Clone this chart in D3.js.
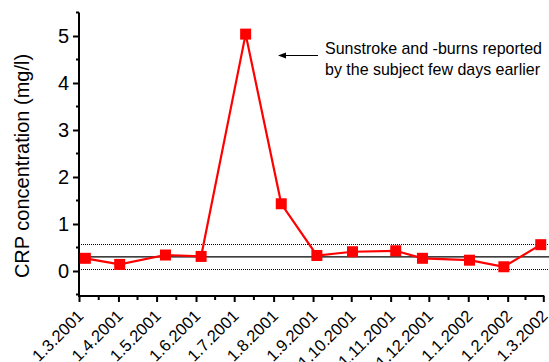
<!DOCTYPE html>
<html lang="en">
<head>
<meta charset="UTF-8"/>
<title>CRP</title>
<script src="https://d3js.org/d3.v7.min.js"></script>
<style>
  body { margin: 0; background: #fff; }
  text { font-family: "Liberation Sans", Arial, sans-serif; fill: #000; }
</style>
</head>
<body>
<svg id="chart" width="549" height="362"></svg>
<script>
// sample dates and CRP values (mg/l)
var dates = ["2001-03-06", "2001-04-02", "2001-05-08", "2001-06-05", "2001-07-10", "2001-08-07",
             "2001-09-04", "2001-10-02", "2001-11-05", "2001-11-26", "2002-01-02", "2002-01-29", "2002-02-27"];
var crp = [0.27, 0.14, 0.34, 0.31, 5.04, 1.43, 0.33, 0.41, 0.43, 0.27, 0.23, 0.09, 0.56];

// reference lines: centre (solid) and band (dotted)
var refCentre = [0.31];
var refBand = [0.05, 0.58];

// month ticks on the x axis
var monthTicks = ["2001-03-01", "2001-04-01", "2001-05-01", "2001-06-01", "2001-07-01", "2001-08-01",
                  "2001-09-01", "2001-10-01", "2001-11-01", "2001-12-01", "2002-01-01", "2002-02-01", "2002-03-01"];
var yTicks = [0, 1, 2, 3, 4, 5];
var yMinor = [-0.5, 0.5, 1.5, 2.5, 3.5, 4.5, 5.5];

var noteLines = ["Sunstroke and -burns reported", "by the subject few days earlier"];
var noteWidths = [217, 215];

var parse = d3.utcParse("%Y-%m-%d");
var fmt = function(d) { return d.getUTCDate() + "." + (d.getUTCMonth() + 1) + "." + d.getUTCFullYear(); };

var plotLeft = 79, plotRight = 543.3, plotTop = 12.5, plotBottom = 294.5, axisY = 296;

var svg = d3.select("#chart");

var x = d3.scaleUtc()
    .domain([parse("2001-03-01"), parse("2002-03-01")])
    .range([plotLeft, plotRight]);

var y = d3.scaleLinear()
    .domain([-0.5, 5.5])
    .range([plotBottom, plotTop]);

// reference lines
svg.selectAll(".ref")
  .data(refCentre)
  .enter().append("line")
    .attr("x1", plotLeft).attr("x2", 549)
    .attr("y1", function(d) { return y(d) + 0.5; })
    .attr("y2", function(d) { return y(d) + 0.5; })
    .attr("stroke", "#000").attr("stroke-width", 1.2);

svg.selectAll(".band")
  .data(refBand)
  .enter().append("line")
    .attr("x1", plotLeft).attr("x2", 549)
    .attr("y1", function(d) { return Math.round(y(d)) + 0.5; })
    .attr("y2", function(d) { return Math.round(y(d)) + 0.5; })
    .attr("stroke", "#000").attr("stroke-width", 1)
    .attr("stroke-dasharray", "1,1");

// y axis
var yAxis = d3.axisLeft(y).tickValues(yTicks).tickSize(6).tickPadding(4).tickFormat(d3.format("d"));
var gy = svg.append("g").attr("transform", "translate(" + plotLeft + ",0)").call(yAxis);
gy.select(".domain").remove();
gy.append("line").attr("x1", 0).attr("x2", 0).attr("y1", plotTop).attr("y2", axisY + 1)
  .attr("stroke", "#000").attr("stroke-width", 2);
gy.selectAll(".tick line").attr("stroke-width", 2);
gy.selectAll(".tick text")
  .style("font-family", "'Liberation Sans', Arial, sans-serif")
  .style("font-size", "20px");
gy.selectAll(".minor")
  .data(yMinor)
  .enter().append("line")
    .attr("x1", -3).attr("x2", 0)
    .attr("y1", function(d) { return y(d); })
    .attr("y2", function(d) { return y(d); })
    .attr("stroke", "#000").attr("stroke-width", 2);

// x axis
var ticks = monthTicks.map(parse);
var mids = d3.pairs(ticks).map(function(p) { return new Date((+p[0] + +p[1]) / 2); });
var xAxis = d3.axisBottom(x).tickValues(ticks).tickSize(6).tickFormat(fmt);
var gx = svg.append("g").attr("transform", "translate(0," + axisY + ")").call(xAxis);
gx.select(".domain").remove();
gx.append("line").attr("x1", plotLeft - 1).attr("x2", plotRight + 1).attr("y1", 0).attr("y2", 0)
  .attr("stroke", "#000").attr("stroke-width", 2);
gx.selectAll(".tick line").attr("stroke-width", 2);
gx.selectAll(".tick text")
  .style("font-family", "'Liberation Sans', Arial, sans-serif")
  .style("font-size", "16.5px")
  .attr("text-anchor", "end")
  .attr("dy", null)
  .attr("y", null)
  .attr("transform", "translate(5,21) rotate(-45)");
gx.selectAll(".minor")
  .data(mids)
  .enter().append("line")
    .attr("x1", function(d) { return x(d); })
    .attr("x2", function(d) { return x(d); })
    .attr("y1", 0).attr("y2", 4)
    .attr("stroke", "#000").attr("stroke-width", 2);

// y label
svg.append("text")
  .attr("transform", "translate(29,166) rotate(-90)")
  .attr("text-anchor", "middle")
  .style("font-size", "20px")
  .text("CRP concentration (mg/l)");

// series
var pts = dates.map(function(d, i) { return { date: parse(d), value: crp[i] }; });
var line = d3.line().x(function(d) { return x(d.date); }).y(function(d) { return y(d.value); });

svg.append("path")
  .datum(pts)
  .attr("d", line)
  .attr("fill", "none")
  .attr("stroke", "#ff0000")
  .attr("stroke-width", 2.2);

var m = 11;
svg.selectAll(".pt")
  .data(pts)
  .enter().append("rect")
    .attr("x", function(d) { return x(d.date) - m / 2; })
    .attr("y", function(d) { return y(d.value) - m / 2; })
    .attr("width", m).attr("height", m)
    .attr("fill", "#ff0000");

// annotation arrow and note
svg.append("line")
  .attr("x1", 318).attr("x2", 284)
  .attr("y1", 55.5).attr("y2", 55.5)
  .attr("stroke", "#000").attr("stroke-width", 1);
svg.append("path")
  .attr("d", "M278,55.5 L286,52.5 L286,58.5 Z")
  .attr("fill", "#000");

svg.selectAll(".note")
  .data(noteLines)
  .enter().append("text")
    .attr("x", 325)
    .attr("y", function(d, i) { return 54 + i * 21; })
    .attr("textLength", function(d, i) { return noteWidths[i]; })
    .attr("lengthAdjust", "spacingAndGlyphs")
    .style("font-size", "17px")
    .text(function(d) { return d; });
</script>
</body>
</html>
